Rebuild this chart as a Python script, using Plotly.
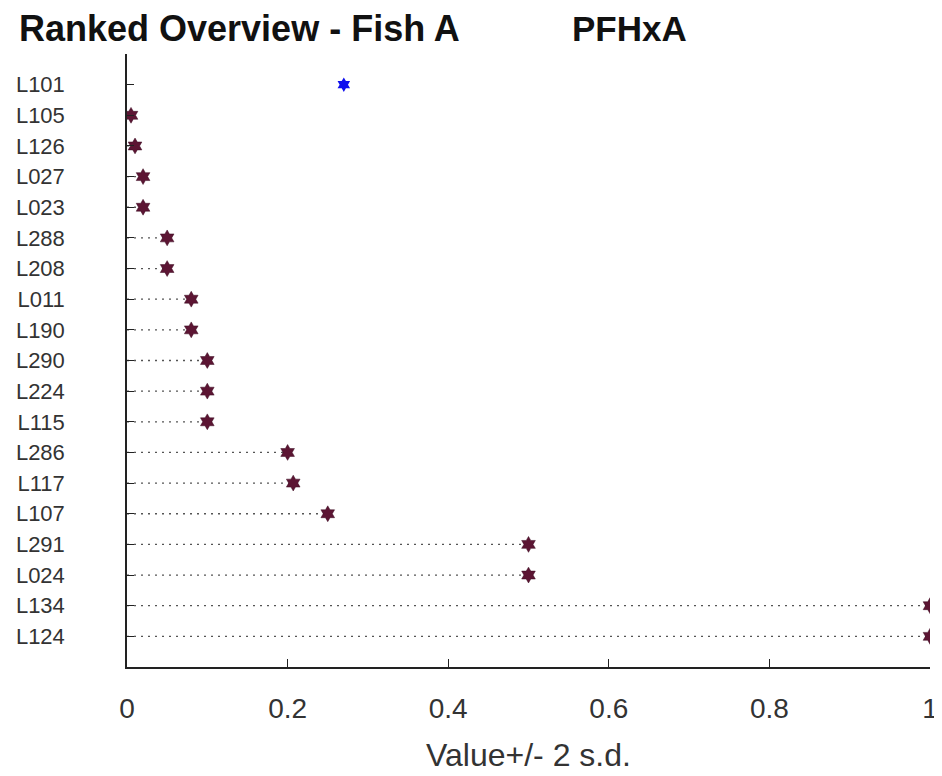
import plotly.graph_objects as go

# labs ranked top to bottom
labs = ["L101", "L105", "L126", "L027", "L023", "L288", "L208", "L011", "L190",
        "L290", "L224", "L115", "L286", "L117", "L107", "L291", "L024", "L134", "L124"]
vals = [0.27, 0.005, 0.01, 0.02, 0.02, 0.05, 0.05, 0.08, 0.08,
        0.10, 0.10, 0.10, 0.20, 0.207, 0.25, 0.50, 0.50, 1.0, 1.0]
x_ticks = [0, 0.2, 0.4, 0.6, 0.8, 1]
x_tick_text = ["0", "0.2", "0.4", "0.6", "0.8", "1"]

n = len(labs)
ypos = [n - i for i in range(n)]  # L101 at top

# dotted guide lines from 0 to value (not for the reference lab)
lx, ly = [], []
for v, y in zip(vals[1:], ypos[1:]):
    lx += [0, v, None]
    ly += [y, y, None]

fig = go.Figure()
fig.add_trace(go.Scatter(x=lx, y=ly, mode="lines",
                         line=dict(color="#555555", width=1.3, dash="2px,5px"),
                         hoverinfo="skip", showlegend=False))
fig.add_trace(go.Scatter(x=vals[1:], y=ypos[1:], mode="markers",
                         marker=dict(symbol="hexagram", size=12, color="#5c1533",
                                     line=dict(color="#3a0a20", width=0.5)),
                         showlegend=False))
fig.add_trace(go.Scatter(x=vals[:1], y=ypos[:1], mode="markers",
                         marker=dict(symbol="hexagram", size=11, color="#1010ee"),
                         showlegend=False))

# page body adds an 8px offset, margins compensate
fig.update_layout(
    width=942, height=776,
    paper_bgcolor="white", plot_bgcolor="white",
    margin=dict(l=119, r=20, t=46, b=117),
    font=dict(family="Liberation Sans, Arial, sans-serif", color="#222"),
    annotations=[
        dict(text="<b>Ranked Overview - Fish A</b>", xref="paper", yref="paper", x=-0.137, y=1.042,
             xanchor="left", yanchor="middle", showarrow=False, font=dict(size=36, color="#111")),
        dict(text="<b>PFHxA</b>", xref="paper", yref="paper", x=0.552, y=1.042,
             xanchor="left", yanchor="middle", showarrow=False, font=dict(size=35, color="#111")),
    ],
)

fig.update_xaxes(range=[0, 1], tickvals=x_ticks, ticktext=x_tick_text, automargin=False,
                 ticks="inside", ticklen=8, tickcolor="#222", showline=True, linecolor="#222",
                 linewidth=1.5, showgrid=False, zeroline=False, ticklabelstandoff=16,
                 tickfont=dict(size=28, color="#333"),
                 title=dict(text="Value+/- 2 s.d.", font=dict(size=32, color="#333"), standoff=20))
fig.update_yaxes(range=[0, 20], tickvals=ypos, ticktext=labs, automargin=False,
                 ticks="inside", ticklen=7, tickcolor="#222", showline=True, linecolor="#222",
                 linewidth=1.5, showgrid=False, zeroline=False, ticklabelstandoff=56,
                 tickfont=dict(size=22, color="#333"))

fig.write_html("out.html")
